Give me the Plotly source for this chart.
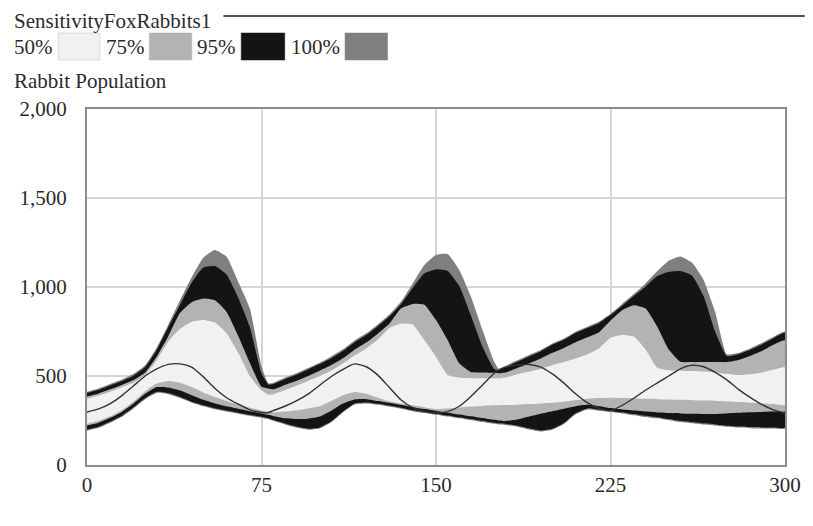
import plotly.graph_objects as go

# ---------------- data ----------------
T = [0, 5, 10, 15, 20, 25, 30, 35, 40, 45, 50, 55, 60, 65, 70, 75, 78,
     80, 85, 90, 95, 100, 105, 110, 115, 120, 125, 130, 135, 140, 145, 150, 155, 160, 165, 170, 175, 177,
     180, 185, 190, 195, 200, 205, 210, 215, 220, 225, 230, 235, 240, 245, 250, 255, 260, 265, 270, 275,
     280, 285, 290, 295, 300]

p100_hi = [412, 430, 455, 480, 512, 560, 660, 790, 925, 1055, 1165, 1208, 1170, 1030, 880, 555, 458,
           462, 490, 515, 545, 575, 610, 650, 700, 740, 790, 845, 918, 1020, 1124, 1180, 1185, 1095, 946, 758, 580, 540,
           558, 588, 618, 646, 683, 711, 749, 777, 805, 850, 905, 960, 1020, 1088, 1148, 1172, 1137, 1040, 860, 622,
           630, 655, 685, 720, 750]
p95_hi = [405, 423, 447, 472, 502, 550, 648, 775, 900, 1025, 1110, 1118, 1070, 940, 775, 515, 452,
          455, 482, 507, 537, 567, 600, 640, 690, 730, 780, 835, 905, 995, 1077, 1099, 1090, 1005, 840, 665, 540, 533,
          550, 580, 610, 638, 675, 703, 741, 769, 797, 842, 895, 950, 1002, 1060, 1085, 1090, 1065, 950, 750, 612,
          622, 647, 677, 712, 742]
p75_hi = [385, 402, 425, 450, 477, 520, 610, 725, 855, 915, 935, 925, 860, 725, 575, 440, 430,
          425, 450, 472, 500, 530, 562, 600, 648, 688, 738, 795, 880, 905, 900, 814, 702, 571, 522, 520, 518, 516,
          520, 545, 570, 598, 630, 658, 690, 718, 745, 812, 870, 898, 880, 780, 650, 580, 578, 578, 578, 578,
          590, 612, 640, 675, 700]
p50_hi = [372, 390, 412, 437, 462, 505, 590, 695, 765, 805, 815, 800, 740, 630, 500, 420, 395,
          398, 420, 445, 472, 500, 530, 570, 615, 655, 705, 770, 795, 790, 702, 608, 505, 490, 488, 487, 487, 487,
          492, 510, 525, 540, 560, 578, 598, 622, 655, 715, 730, 722, 650, 548, 532, 530, 528, 525, 520, 512,
          505, 510, 520, 535, 548]
p50_lo = [232, 248, 275, 308, 357, 415, 458, 472, 462, 438, 408, 382, 360, 340, 322, 306, 298,
          295, 300, 308, 318, 330, 360, 392, 410, 400, 378, 358, 345, 335, 325, 315, 318, 322, 328, 332, 335, 336,
          337, 339, 342, 346, 350, 356, 364, 372, 376, 378, 376, 374, 372, 370, 368, 366, 364, 362, 360, 357,
          354, 350, 346, 342, 338]
p75_lo = [222, 238, 265, 298, 345, 400, 438, 435, 418, 392, 366, 346, 330, 316, 302, 290, 282,
          275, 262, 258, 260, 272, 305, 345, 368, 370, 360, 350, 338, 325, 315, 305, 294, 284, 274, 264, 254, 250,
          247, 255, 272, 288, 302, 316, 330, 338, 330, 320, 312, 306, 300, 295, 292, 290, 288, 287, 287, 290,
          293, 296, 298, 300, 302]
p95_lo = [199, 215, 244, 277, 324, 376, 411, 404, 382, 356, 336, 319, 306, 294, 282, 271, 263,
          254, 234, 216, 204, 211, 246, 301, 346, 351, 344, 334, 322, 308, 298, 288, 278, 268, 258, 248, 238, 234,
          231, 221, 206, 194, 204, 236, 291, 318, 311, 304, 296, 286, 276, 268, 258, 248, 241, 234, 228, 221,
          216, 213, 211, 211, 211]
p100_lo = [193, 209, 238, 271, 318, 370, 405, 398, 376, 350, 330, 313, 300, 288, 276, 265, 257,
           248, 228, 210, 198, 205, 240, 295, 340, 345, 338, 328, 316, 302, 292, 282, 272, 262, 252, 242, 232, 228,
           225, 215, 200, 188, 198, 230, 285, 312, 305, 298, 290, 280, 270, 262, 252, 242, 235, 228, 222, 215,
           210, 207, 205, 205, 205]
base = [298, 315, 345, 390, 445, 500, 540, 565, 568, 550, 495, 430, 378, 342, 310, 295, 295,
        305, 330, 360, 398, 448, 497, 537, 568, 552, 505, 435, 365, 322, 300, 292, 300, 330, 385, 450, 515, 535,
        550, 562, 565, 550, 512, 460, 400, 350, 318, 305, 335, 375, 420, 460, 500, 540, 560, 552, 520, 478,
        425, 380, 340, 310, 292]

band_names = ["100%", "95%", "75%", "50%"]
band_colors = ["#7f7f7f", "#141414", "#b3b3b3", "#f1f1f1"]
legend_order = ["50%", "75%", "95%", "100%"]

x_ticks = [0, 75, 150, 225, 300]
x_labels = ["0", "75", "150", "225", "300"]
y_ticks = [0, 500, 1000, 1500, 2000]
y_labels = ["0", "500", "1,000", "1,500", "2,000"]

title_text = "SensitivityFoxRabbits1"
var_text = "Rabbit Population"

# ---------------- figure ----------------
W, H = 813, 526
L, R, TOP, BOT = 87, 793, 109, 465


def px(x):
    return (x - L) / (R - L)


def py(y):
    return (BOT - y) / (BOT - TOP)


fig = go.Figure()
bands = [(p100_lo, p100_hi), (p95_lo, p95_hi), (p75_lo, p75_hi), (p50_lo, p50_hi)]
for (lo, hi), name, col in zip(bands, band_names, band_colors):
    fig.add_trace(go.Scatter(
        x=T + T[::-1], y=hi + lo[::-1], fill="toself", fillcolor=col,
        mode="lines", line=dict(width=0, color=col, shape="spline", smoothing=0.45), name=name,
        hoverinfo="skip", showlegend=False))

fig.add_trace(go.Scatter(x=T, y=base, mode="lines",
                         line=dict(color="#333333", width=1.4, shape="spline", smoothing=0.6),
                         showlegend=False, hoverinfo="skip"))

font = dict(family="Liberation Serif", size=21, color="#2b2b2b")
axis_common = dict(showgrid=True, gridcolor="#d6d6d6", gridwidth=1.5, showline=True,
                   linecolor="#8c8c8c", linewidth=2, mirror=True, zeroline=False, ticks="")

fig.update_layout(
    width=W, height=H,
    margin=dict(l=L, r=W - R, t=TOP, b=H - BOT),
    paper_bgcolor="white", plot_bgcolor="white",
    font=font, showlegend=False,
    xaxis=dict(range=[0, 300], tickvals=x_ticks, ticktext=x_labels,
               ticklabelstandoff=0, **axis_common),
    yaxis=dict(range=[0, 2000], tickvals=y_ticks, ticktext=y_labels,
               ticklabelstandoff=14, **axis_common),
)

ann = []
shapes = []
ann.append(dict(x=px(11), y=py(21), xref="paper", yref="paper", text=title_text,
                showarrow=False, xanchor="left", yanchor="middle", font=font))
ann.append(dict(x=px(11), y=py(81), xref="paper", yref="paper", text=var_text,
                showarrow=False, xanchor="left", yanchor="middle", font=font))
shapes.append(dict(type="line", xref="paper", yref="paper", x0=px(225), x1=px(813),
                   y0=py(16), y1=py(16), line=dict(color="#555555", width=2)))

text_x = [11, 104, 196, 291]
sw_x = [(58, 100), (150, 193), (243, 287), (348, 391)]
col_map = dict(zip(band_names, band_colors))
for name, tx, (s0, s1) in zip(legend_order, text_x, sw_x):
    ann.append(dict(x=px(tx), y=py(47), xref="paper", yref="paper", text=name,
                    showarrow=False, xanchor="left", yanchor="middle", font=font))
    shapes.append(dict(type="rect", xref="paper", yref="paper", x0=px(s0), x1=px(s1),
                       y0=py(60), y1=py(33), fillcolor=col_map[name],
                       line=dict(color="#bdbdbd" if name == "50%" else col_map[name], width=0.5)))

fig.update_layout(annotations=ann, shapes=shapes)
fig.write_html("out.html")
